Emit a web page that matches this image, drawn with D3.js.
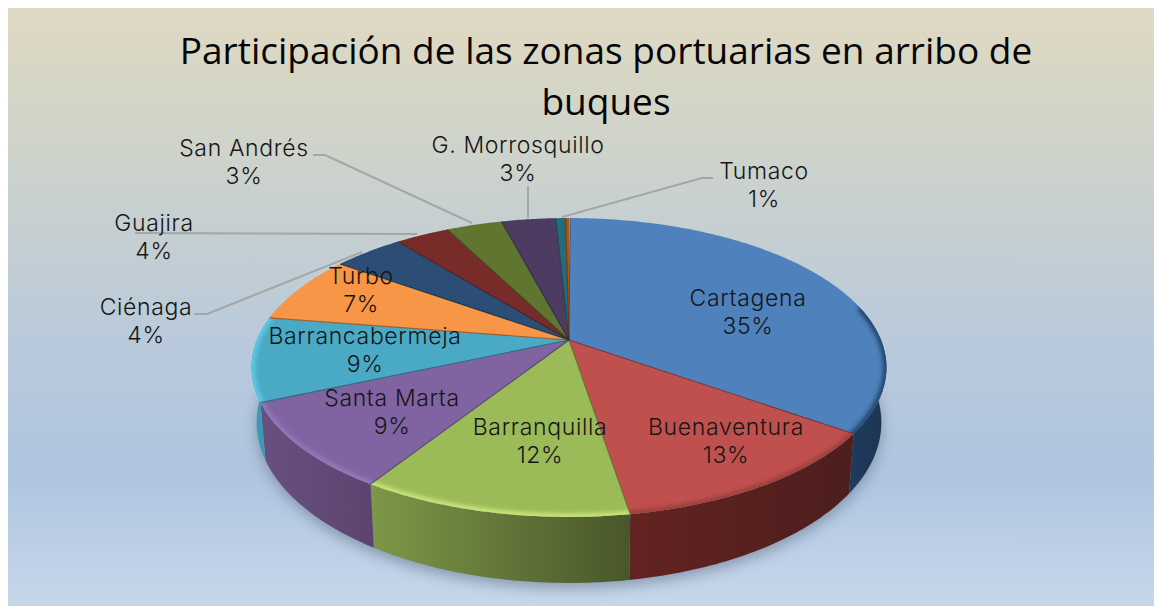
<!DOCTYPE html>
<html>
<head>
<meta charset="utf-8">
<script src="https://cdn.jsdelivr.net/npm/d3@7/dist/d3.min.js"></script>
<style>
html,body{margin:0;padding:0;background:#fff;overflow:hidden}
svg{display:block}
</style>
</head>
<body>
<svg id="c" width="1154" height="606"></svg>
<script>
// ---- data ----
const categories = ["Cartagena","Buenaventura","Barranquilla","Santa Marta","Barrancabermeja","Turbo","Ciénaga","Guajira","San Andrés","G. Morrosquillo","Tumaco",""];
const values     = [34.8,12.6,11.6,9.4,9.1,7.4,4.3,3.3,3.4,3.3,0.6,0.2];
const shownPct   = ["35%","13%","12%","9%","9%","7%","4%","4%","3%","3%","1%",""];
const titleLines = ["Participación de las zonas portuarias en arribo de","buques"];

// ---- styles ----
const topColors  = ["#4f81bd","#c0504d","#9bbb59","#8064a2","#4aa9c5","#f79646","#2c4d75","#772c2a","#5f7530","#4d3b62","#276a7c","#b65708"];
const rimColors  = ["#23446c","#9c3f3d","#c9e678","#9379b8","#60c8ea","#f79646","#2c4d75","#772c2a","#5f7530","#4d3b62","#276a7c","#b65708"];
const wallLeft   = ["#1f3a5c","#632321","#7d9848","#68507f","#3c9ab8","#f79646","#2c4d75","#772c2a","#5f7530","#4d3b62","#276a7c","#b65708"];
const wallRight  = ["#1d3452","#4c1e1d","#49562a","#5d4470","#3c9ab8","#f79646","#2c4d75","#772c2a","#5f7530","#4d3b62","#276a7c","#b65708"];

// ---- layout ----
const W=1154,H=606, cx=569, cy=340, Rx=312, Ry=144.4, persp=0.184;
const cyB=393, RxB=307, RyB=155;
// [centre x, first baseline]
const labelLayout = [[748,306],[726,435],[540,435],[392,406],[365,344],[361,284],[146,315],[154,231],[244,156],[518,153],[764,179],null];
const leaderLayout = [
  [[194,314],[207,314],[362,252]],
  [[135,233],[417,234]],
  [[313,155],[325,155],[472,223]],
  [[528,186],[528,218]],
  [[713,178],[702,178],[562,217]]
];

const svg=d3.select("#c");
const defs=svg.append("defs");
const bg=defs.append("linearGradient").attr("id","bg").attr("x1",0).attr("y1",0).attr("x2",0).attr("y2",1);
[[0,"#e0d9c3"],[0.12,"#d6d6c5"],[0.32,"#c9d1cf"],[0.55,"#b9cadb"],[0.78,"#afc5e0"],[1,"#c6d7ea"]]
  .forEach(s=>bg.append("stop").attr("offset",s[0]).attr("stop-color",s[1]));
defs.append("filter").attr("id","blur6").attr("x","-20%").attr("y","-20%").attr("width","140%").attr("height","140%")
  .append("feGaussianBlur").attr("stdDeviation",7);
defs.append("filter").attr("id","blur2").attr("x","-20%").attr("y","-20%").attr("width","140%").attr("height","140%")
  .append("feGaussianBlur").attr("stdDeviation",2.2);

svg.append("rect").attr("x",8).attr("y",8).attr("width",W-8).attr("height",H-8).attr("fill","url(#bg)");

// projection of the pie plane
function proj(th){const u=Math.sin(th),v=-Math.cos(th),w=1/(1-persp*v);
  return [cx+Rx*u*w, cy+Ry*v*w];}
function projBottom(th){const u=Math.sin(th),v=-Math.cos(th),w=1/(1-persp*v);
  return [cx+RxB*u*w, cyB+RyB*v*w];}
const line=d3.line();
const arcs=d3.pie().sort(null).value(d=>d).startAngle(0.004)(values);
const samples=(a,b,n)=>d3.range(n+1).map(i=>a+(b-a)*i/n);
const nOf=a=>Math.max(2,Math.ceil((a.endAngle-a.startAngle)/0.01));

// ground shadow
const full=samples(0,2*Math.PI,240);
svg.append("path").attr("d",line(full.map(t=>{const p=projBottom(t);return [p[0],p[1]+5];}))+"Z")
  .attr("fill","#5a6a80").attr("opacity",0.55).attr("filter","url(#blur6)");

// walls (only the front half shows once the tops are painted)
const walls=svg.append("g");
arcs.forEach((a,i)=>{
  const ts=samples(a.startAngle,a.endAngle,nOf(a));
  const frontTs=ts.filter(t=>-Math.cos(t)>-0.25);
  if(frontTs.length<2) return;
  const topPts=frontTs.map(proj);
  const botPts=frontTs.map(projBottom).reverse();
  const xs=topPts.map(p=>p[0]);
  const id="wall"+i;
  const g=defs.append("linearGradient").attr("id",id).attr("gradientUnits","userSpaceOnUse")
    .attr("x1",d3.min(xs)).attr("x2",d3.max(xs)).attr("y1",0).attr("y2",0);
  g.append("stop").attr("offset",0).attr("stop-color",wallLeft[i]);
  g.append("stop").attr("offset",1).attr("stop-color",wallRight[i]);
  walls.append("path").attr("d",line(topPts.concat(botPts))+"Z").attr("fill",`url(#${id})`);
});

// top faces
const tops=svg.append("g");
arcs.forEach((a,i)=>{
  const ts=samples(a.startAngle,a.endAngle,nOf(a));
  const pts=[[cx,cy]].concat(ts.map(proj));
  const d=line(pts)+"Z";
  const clip="clip"+i;
  defs.append("clipPath").attr("id",clip).append("path").attr("d",d);
  tops.append("path").attr("d",d).attr("fill",topColors[i]);
  const rimTs=ts.filter(t=>-Math.cos(t)>-0.22);
  if(rimTs.length>1){
    tops.append("g").attr("clip-path",`url(#${clip})`).append("path")
      .attr("d",line(rimTs.map(proj))).attr("fill","none").attr("stroke-linecap","round")
      .attr("stroke",rimColors[i]).attr("stroke-width",7).attr("filter","url(#blur2)");
  }
});
// dark seams between slices
tops.append("g").selectAll("path").data(arcs).join("path")
  .attr("d",a=>line([[cx,cy],proj(a.startAngle)]))
  .attr("fill","none").attr("stroke-width",1.1)
  .attr("stroke",(a,i)=>d3.color(topColors[i]).darker(1.6).formatHex()).attr("stroke-opacity",0.8);

// leader lines
svg.append("g").selectAll("path").data(leaderLayout).join("path")
  .attr("d",d=>line(d)).attr("fill","none").attr("stroke","#a6a6a6").attr("stroke-width",2);

// labels
const lab=svg.append("g").attr("font-family","Inter, Lato, sans-serif").attr("font-weight",300)
  .attr("font-size",23).attr("letter-spacing",0.65).attr("fill","#161616").attr("text-anchor","middle");
categories.forEach((c,i)=>{
  if(!labelLayout[i]) return;
  const [x,y]=labelLayout[i];
  lab.append("text").attr("x",x).attr("y",y).text(c);
  lab.append("text").attr("x",x).attr("y",y+28).text(shownPct[i]);
});

// title
svg.append("g").attr("font-family","'Open Sans', 'Noto Sans', sans-serif").attr("font-size",37)
  .attr("fill","#050505").attr("text-anchor","middle")
  .selectAll("text").data(titleLines).join("text")
  .attr("x",606).attr("y",(d,i)=>64+i*51).text(d=>d);
</script>
</body>
</html>
